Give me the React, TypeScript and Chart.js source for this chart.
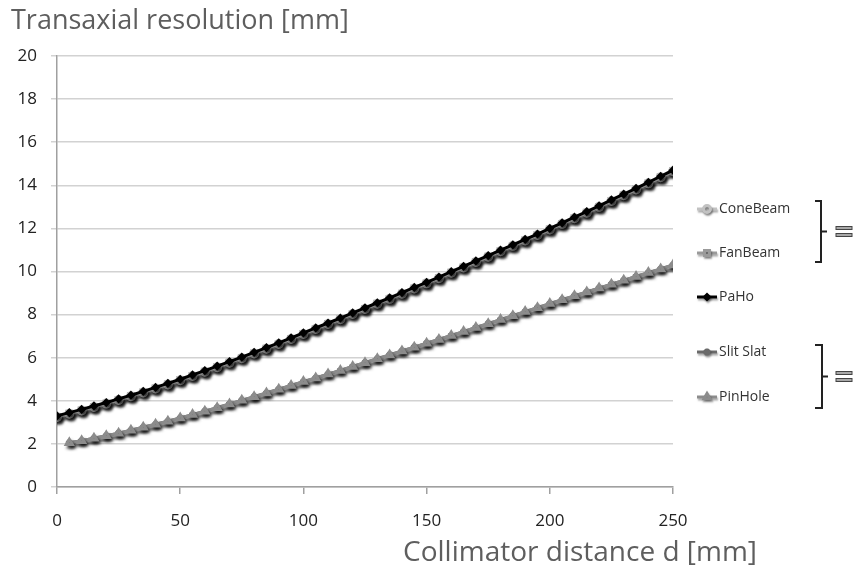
import React, { useEffect, useRef } from "react";
import { Chart, registerables } from "chart.js";
import { drawPoint } from "chart.js/helpers";
Chart.register(...registerables);

const FONT = "'Open Sans', 'DejaVu Sans', sans-serif";

const yTitle = "Transaxial resolution [mm]";
const xTitle = "Collimator distance d [mm]";

const seriesNames = ["ConeBeam", "FanBeam", "PaHo", "Slit Slat", "PinHole"];

const distance = [
  0, 5, 10, 15, 20, 25, 30, 35, 40, 45, 50, 55, 60, 65, 70, 75, 80, 85, 90, 95, 100,
  105, 110, 115, 120, 125, 130, 135, 140, 145, 150, 155, 160, 165, 170, 175, 180, 185,
  190, 195, 200, 205, 210, 215, 220, 225, 230, 235, 240, 245, 250,
];

const paHo = [
  3.30, 3.45, 3.60, 3.76, 3.92, 4.09, 4.26, 4.44, 4.62, 4.81, 5.00,
  5.20, 5.40, 5.61, 5.82, 6.03, 6.25, 6.47, 6.69, 6.92, 7.15,
  7.38, 7.61, 7.84, 8.08, 8.31, 8.55, 8.78, 9.02, 9.26, 9.50,
  9.74, 9.99, 10.24, 10.49, 10.74, 10.99, 11.24, 11.49, 11.74, 12.00,
  12.26, 12.52, 12.78, 13.05, 13.32, 13.59, 13.86, 14.14, 14.42, 14.70,
];

const coneBeam = [
  3.25, 3.40, 3.55, 3.71, 3.87, 4.04, 4.21, 4.39, 4.57, 4.76, 4.95,
  5.15, 5.35, 5.56, 5.77, 5.98, 6.20, 6.42, 6.64, 6.87, 7.10,
  7.33, 7.56, 7.79, 8.03, 8.26, 8.50, 8.73, 8.97, 9.21, 9.45,
  9.69, 9.94, 10.19, 10.44, 10.69, 10.94, 11.19, 11.44, 11.69, 11.95,
  12.21, 12.47, 12.73, 13.00, 13.27, 13.54, 13.81, 14.09, 14.37, 14.65,
];

const fanBeam = [
  3.25, 3.40, 3.55, 3.71, 3.87, 4.04, 4.21, 4.39, 4.57, 4.76, 4.95,
  5.15, 5.35, 5.56, 5.77, 5.98, 6.20, 6.42, 6.64, 6.87, 7.10,
  7.33, 7.56, 7.79, 8.03, 8.26, 8.50, 8.73, 8.97, 9.21, 9.45,
  9.69, 9.94, 10.19, 10.44, 10.69, 10.94, 11.19, 11.44, 11.69, 11.95,
  12.21, 12.47, 12.73, 13.00, 13.27, 13.54, 13.81, 14.09, 14.37, 14.65,
];

const slitSlat = [
  null, 2.05, 2.15, 2.26, 2.38, 2.50, 2.63, 2.77, 2.91, 3.05, 3.20,
  3.36, 3.52, 3.68, 3.85, 4.02, 4.19, 4.36, 4.54, 4.71, 4.89,
  5.06, 5.24, 5.41, 5.59, 5.77, 5.95, 6.13, 6.31, 6.49, 6.67,
  6.85, 7.03, 7.21, 7.40, 7.58, 7.77, 7.95, 8.14, 8.32, 8.51,
  8.69, 8.87, 9.05, 9.23, 9.41, 9.59, 9.77, 9.95, 10.12, 10.30,
];

const pinHole = [
  null, 2.05, 2.15, 2.26, 2.38, 2.50, 2.63, 2.77, 2.91, 3.05, 3.20,
  3.36, 3.52, 3.68, 3.85, 4.02, 4.19, 4.36, 4.54, 4.71, 4.89,
  5.06, 5.24, 5.41, 5.59, 5.77, 5.95, 6.13, 6.31, 6.49, 6.67,
  6.85, 7.03, 7.21, 7.40, 7.58, 7.77, 7.95, 8.14, 8.32, 8.51,
  8.69, 8.87, 9.05, 9.23, 9.41, 9.59, 9.77, 9.95, 10.12, 10.30,
];

const seriesValues = [coneBeam, fanBeam, paHo, slitSlat, pinHole];
const seriesColors = ["#c2c2c2", "#9a9a9a", "#000000", "#6a6a6a", "#8c8c8c"];
const seriesMarkers = ["circle", "rect", "rectRot", "star", "triangle"];
const seriesOrder = [2, 2, 0, 1, 0];

export default function App() {
  const ref = useRef<HTMLCanvasElement>(null);

  useEffect(() => {
    document.body.style.margin = "0";
    if (!ref.current) return;

    const shadowPlugin = {
      id: "shadow",
      beforeDatasetDraw(chart: any) {
        const c = chart.ctx;
        c.save();
        c.shadowColor = "rgba(0,0,0,0.45)";
        c.shadowOffsetX = 2;
        c.shadowOffsetY = 3;
        c.shadowBlur = 3;
      },
      afterDatasetDraw(chart: any) {
        chart.ctx.restore();
      },
    };

    const legendY = [209, 253, 297, 352, 397];

    const annotPlugin = {
      id: "annot",
      afterDraw(chart: any) {
        const c = chart.ctx as CanvasRenderingContext2D;
        c.save();
        // axis titles
        c.fillStyle = "#5e5e5e";
        c.textBaseline = "middle";
        c.textAlign = "left";
        c.font = `27px ${FONT}`;
        c.fillText(yTitle, 11, 21);
        c.textAlign = "right";
        c.font = `28px ${FONT}`;
        c.fillText(xTitle, 757, 553);

        // legend
        chart.data.datasets.forEach((ds: any, i: number) => {
          const y = legendY[i];
          c.save();
          c.shadowColor = "rgba(0,0,0,0.35)";
          c.shadowOffsetX = 1;
          c.shadowOffsetY = 2;
          c.shadowBlur = 2;
          c.strokeStyle = ds.borderColor;
          c.lineWidth = 3;
          c.beginPath();
          c.moveTo(697, y);
          c.lineTo(717, y);
          c.stroke();
          c.fillStyle = ds.borderColor;
          drawPoint(c, {
            pointStyle: ds.pointStyle,
            radius: ds.pointRadius,
            rotation: 0,
            borderWidth: 1,
          } as any, 707, y);
          c.restore();
          c.fillStyle = "#333333";
          c.font = `14px ${FONT}`;
          c.textAlign = "left";
          c.textBaseline = "middle";
          c.fillText(ds.label, 719, y);
        });

        // brackets
        const bracket = (x: number, y1: number, y2: number) => {
          const m = (y1 + y2) / 2;
          c.strokeStyle = "#222";
          c.lineWidth = 2;
          c.beginPath();
          c.moveTo(815, y1);
          c.lineTo(x, y1);
          c.lineTo(x, y2);
          c.lineTo(815, y2);
          c.moveTo(x, m);
          c.lineTo(x + 6, m);
          c.stroke();
          c.fillStyle = "#a8a8a8";
          c.strokeStyle = "#444";
          c.lineWidth = 1;
          c.fillRect(836, m - 5, 16, 3);
          c.strokeRect(836, m - 5, 16, 3);
          c.fillRect(836, m + 2, 16, 3);
          c.strokeRect(836, m + 2, 16, 3);
        };
        bracket(821, 201, 262);
        bracket(822, 345, 408);
        c.restore();
      },
    };

    const chart = new Chart(ref.current, {
      type: "line",
      data: {
        datasets: seriesNames.map((name, i) => ({
          label: name,
          data: distance.map((x, j) => ({ x, y: seriesValues[i][j] })),
          borderColor: seriesColors[i],
          backgroundColor: seriesColors[i],
          pointBackgroundColor: seriesColors[i],
          pointBorderColor: seriesColors[i],
          pointStyle: seriesMarkers[i] as any,
          pointRadius: i === 2 ? 2.5 : 3.5,
          borderWidth: 3,
          order: seriesOrder[i],
          tension: 0,
          spanGaps: false,
        })),
      },
      plugins: [shadowPlugin, annotPlugin],
      options: {
        responsive: false,
        animation: false,
        layout: { padding: { left: 12, top: 56, right: 181, bottom: 39 } },
        plugins: {
          legend: { display: false },
          tooltip: { enabled: false },
          title: { display: false },
        },
        scales: {
          x: {
            type: "linear",
            min: 0,
            max: 250,
            afterFit: (s: any) => { s.height = 45; },
            ticks: {
              stepSize: 50,
              padding: 17,
              color: "#222",
              font: { family: FONT, size: 17 },
            },
            grid: {
              drawOnChartArea: false,
              drawTicks: true,
              tickLength: 7,
              color: "#a0a0a0",
              lineWidth: 1.5,
            },
            border: { color: "#a0a0a0", width: 1.5 },
          },
          y: {
            type: "linear",
            min: 0,
            max: 20,
            afterFit: (s: any) => { s.width = 45; },
            ticks: {
              stepSize: 2,
              padding: 14,
              color: "#222",
              font: { family: FONT, size: 17 },
            },
            grid: {
              color: "#d2d2d2",
              lineWidth: 1.5,
              tickLength: 6,
            },
            border: { color: "#a0a0a0", width: 1.5 },
          },
        },
      },
    });
    return () => chart.destroy();
  }, []);

  return (
    <div style={{ width: 854, height: 571, position: "relative", background: "#fff" }}>
      <canvas ref={ref} width={854} height={571} />
    </div>
  );
}
